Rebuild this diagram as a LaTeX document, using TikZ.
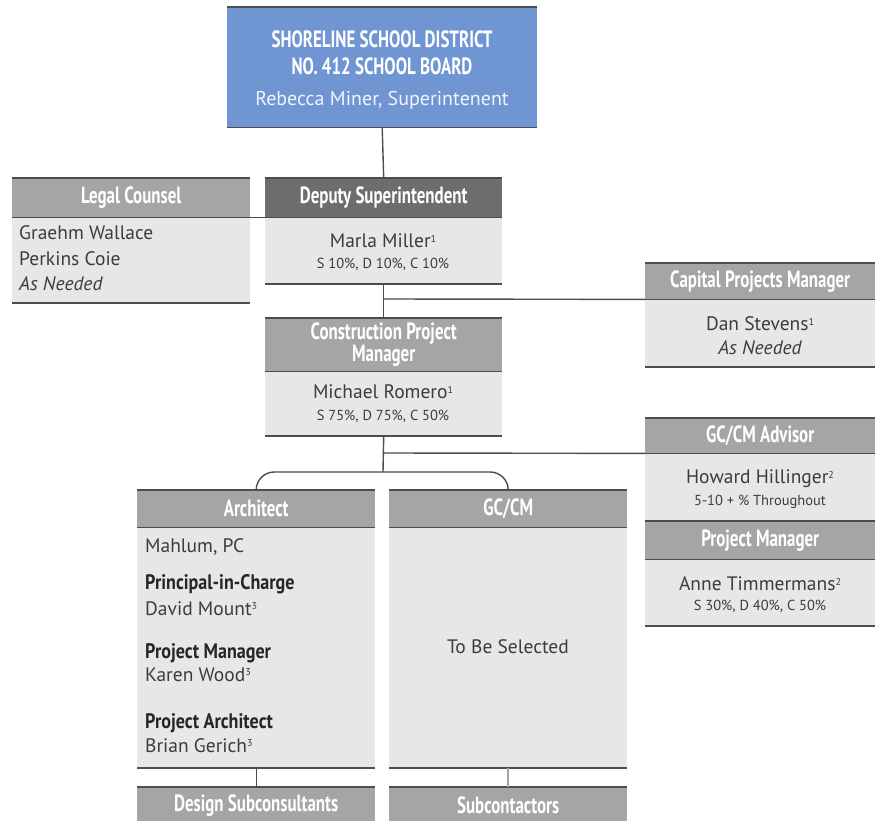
\documentclass[tikz,border=0pt]{standalone}
\usepackage{fontspec}
\setmainfont{PT Sans}
\newfontfamily\condf{PT Sans}[FakeStretch=0.72]
\newfontfamily\rolef{PT Sans}[FakeStretch=0.86]
\definecolor{hdrgray}{HTML}{A5A5A7}
\definecolor{hdrdark}{HTML}{6D6D6D}
\definecolor{bodygray}{HTML}{E7E7E7}
\definecolor{topblue}{HTML}{6F95D3}
\definecolor{rulec}{HTML}{4D4D4D}
\definecolor{txtc}{HTML}{3C3C3C}
\definecolor{subtxt}{HTML}{F2F4FA}
\newcommand{\sups}[1]{\raisebox{0.55ex}{\fontsize{10}{10}\selectfont #1}}
\tikzset{
  hdrbox/.style={fill=hdrgray, inner sep=0pt, anchor=north west, text=white, font=\condf\bfseries\fontsize{23.5}{21}\selectfont, align=center},
  hdrdbox/.style={hdrbox, fill=hdrdark},
  bodybox/.style={fill=bodygray, inner sep=0pt, anchor=north west},
  ruleln/.style={draw=rulec, line width=1.6pt},
  connln/.style={draw=rulec, line width=1.4pt},
  connlt/.style={draw=hdrgray, line width=2pt},
  nametxt/.style={text=txtc, font=\fontsize{19.5}{21}\selectfont, inner sep=0pt},
  smalltxt/.style={text=txtc, font=\fontsize{14.5}{15}\selectfont, inner sep=0pt},
  roletxt/.style={text=black!85, font=\rolef\bfseries\fontsize{21}{22}\selectfont, inner sep=0pt, anchor=base west},
  lnametxt/.style={nametxt, anchor=base west},
}
\begin{document}
\begin{tikzpicture}[x=1pt,y=-1pt]
\useasboundingbox (0,0) rectangle (875,821);
% top board
\node[fill=topblue, inner sep=0pt, anchor=north west, minimum width=310pt, minimum height=120pt] (board) at (227,7) {};
\draw[ruleln] (board.north west) -- (board.north east);
\draw[ruleln] (board.south west) -- (board.south east);
\node[text=white, font=\condf\bfseries\fontsize{23.5}{27}\selectfont, align=center, inner sep=0pt] (boardT) at (382,53) {SHORELINE SCHOOL DISTRICT\\NO. 412 SCHOOL BOARD};
\node[text=subtxt, font=\fontsize{20}{21}\selectfont, inner sep=0pt] (boardS) at (382,100) {Rebecca Miner, Superintenent};

% legal counsel
\node[hdrbox, minimum width=238pt, minimum height=39pt] (lcH) at (12,178) {Legal Counsel};
\node[bodybox, minimum width=238pt, minimum height=85pt] (lcB) at (lcH.south west) {};
\draw[ruleln] (lcH.north west) -- (lcH.north east);
\draw[ruleln] (lcH.south west) -- (lcH.south east);
\draw[ruleln] (lcB.south west) -- (lcB.south east);
\node[lnametxt] (lc1) at (19,239) {Graehm Wallace};
\node[lnametxt] (lc2) at (19,265) {Perkins Coie};
\node[lnametxt, font=\itshape\fontsize{19.5}{21}\selectfont] (lc3) at (19,290) {As Needed};

% deputy
\node[hdrdbox, minimum width=237pt, minimum height=39pt] (dpH) at (265,178) {Deputy Superintendent};
\node[bodybox, minimum width=237pt, minimum height=66pt] (dpB) at (dpH.south west) {};
\draw[ruleln] (dpH.north west) -- (dpH.north east);
\draw[ruleln] (dpH.south west) -- (dpH.south east);
\draw[ruleln] (dpB.south west) -- (dpB.south east);
\node[nametxt] (dp1) at (383,241) {Marla Miller\sups{1}};
\node[smalltxt] (dp2) at (383,264) {S 10\%, D 10\%, C 10\%};

% capital projects manager
\node[hdrbox, minimum width=230pt, minimum height=36pt] (cpH) at (645,263) {Capital Projects Manager};
\node[bodybox, minimum width=230pt, minimum height=67pt] (cpB) at (cpH.south west) {};
\draw[ruleln] (cpH.north west) -- (cpH.north east);
\draw[ruleln] (cpH.south west) -- (cpH.south east);
\draw[ruleln] (cpB.south west) -- (cpB.south east);
\node[nametxt] (cp1) at (760,324) {Dan Stevens\sups{1}};
\node[nametxt, font=\itshape\fontsize{19.5}{21}\selectfont] (cp2) at (760,348) {As Needed};

% construction project manager
\node[hdrbox, minimum width=237pt, minimum height=53pt] (cmH) at (265,318) {Construction Project\\Manager};
\node[bodybox, minimum width=237pt, minimum height=64pt] (cmB) at (cmH.south west) {};
\draw[ruleln] (cmH.north west) -- (cmH.north east);
\draw[ruleln] (cmH.south west) -- (cmH.south east);
\draw[ruleln] (cmB.south west) -- (cmB.south east);
\node[nametxt] (cm1) at (383,392) {Michael Romero\sups{1}};
\node[smalltxt] (cm2) at (383,416) {S 75\%, D 75\%, C 50\%};

% GC/CM advisor
\node[hdrbox, minimum width=230pt, minimum height=35pt] (gaH) at (645,418) {GC/CM Advisor};
\node[bodybox, minimum width=230pt, minimum height=68pt] (gaB) at (gaH.south west) {};
\draw[ruleln] (gaH.north west) -- (gaH.north east);
\draw[ruleln] (gaH.south west) -- (gaH.south east);
\node[nametxt] (ga1) at (760,479) {Howard Hillinger\sups{2}};
\node[smalltxt] (ga2) at (760,502) {5-10 + \% Throughout};

% project manager (owner side)
\node[hdrbox, minimum width=230pt, minimum height=38pt] (pmH) at (645,521) {Project Manager};
\node[bodybox, minimum width=230pt, minimum height=66pt] (pmB) at (pmH.south west) {};
\draw[ruleln] (pmH.north west) -- (pmH.north east);
\draw[ruleln] (pmH.south west) -- (pmH.south east);
\draw[ruleln] (pmB.south west) -- (pmB.south east);
\node[nametxt] (pm1) at (760,584) {Anne Timmermans\sups{2}};
\node[smalltxt] (pm2) at (760,606) {S 30\%, D 40\%, C 50\%};

% architect
\node[hdrbox, minimum width=238pt, minimum height=37pt] (arH) at (137,490) {Architect};
\node[bodybox, minimum width=238pt, minimum height=240pt] (arB) at (arH.south west) {};
\draw[ruleln] (arH.north west) -- (arH.north east);
\draw[ruleln] (arH.south west) -- (arH.south east);
\draw[ruleln] (arB.south west) -- (arB.south east);
\node[lnametxt] (ar1) at (145,552) {Mahlum, PC};
\node[roletxt] (ar2) at (145,589) {Principal-in-Charge};
\node[lnametxt] (ar3) at (145,615) {David Mount\sups{3}};
\node[roletxt] (ar4) at (145,658) {Project Manager};
\node[lnametxt] (ar5) at (145,681) {Karen Wood\sups{3}};
\node[roletxt] (ar6) at (145,728) {Project Architect};
\node[lnametxt] (ar7) at (145,752) {Brian Gerich\sups{3}};

% GC/CM
\node[hdrbox, minimum width=238pt, minimum height=37pt] (gcH) at (389,490) {GC/CM};
\node[bodybox, minimum width=238pt, minimum height=240pt] (gcB) at (gcH.south west) {};
\draw[ruleln] (gcH.north west) -- (gcH.north east);
\draw[ruleln] (gcH.south west) -- (gcH.south east);
\draw[ruleln] (gcB.south west) -- (gcB.south east);
\node[nametxt] (gc1) at (508,647) {To Be Selected};

% bottom boxes
\node[hdrbox, minimum width=238pt, minimum height=36pt] (dsH) at (137,787) {Design Subconsultants};
\draw[ruleln] (dsH.north west) -- (dsH.north east);
\node[hdrbox, minimum width=238pt, minimum height=36pt] (scH) at (389,787) {Subcontactors};
\draw[ruleln] (scH.north west) -- (scH.north east);

% connectors
\coordinate (j1) at (383,299);
\coordinate (j2) at (383,453);
\coordinate (split) at (383,472);
\draw[connln] (board.south) -- (dpH.north);
\draw[connln] (lcH.south east) -- (dpH.south west);
\draw[connln] (dpB.south) -- (cmH.north);
\draw[connln] (j1) -- (cpH.south west);
\draw[connln] (cmB.south) -- (split);
\draw[connln] (j2) -- (gaH.south west);
\draw[connln, rounded corners=18pt] (arH.north) |- (split) -| (gcH.north);
\draw[connln] (arB.south) -- (dsH.north);
\draw[connlt] (gcB.south) -- (scH.north);
\end{tikzpicture}
\end{document}
